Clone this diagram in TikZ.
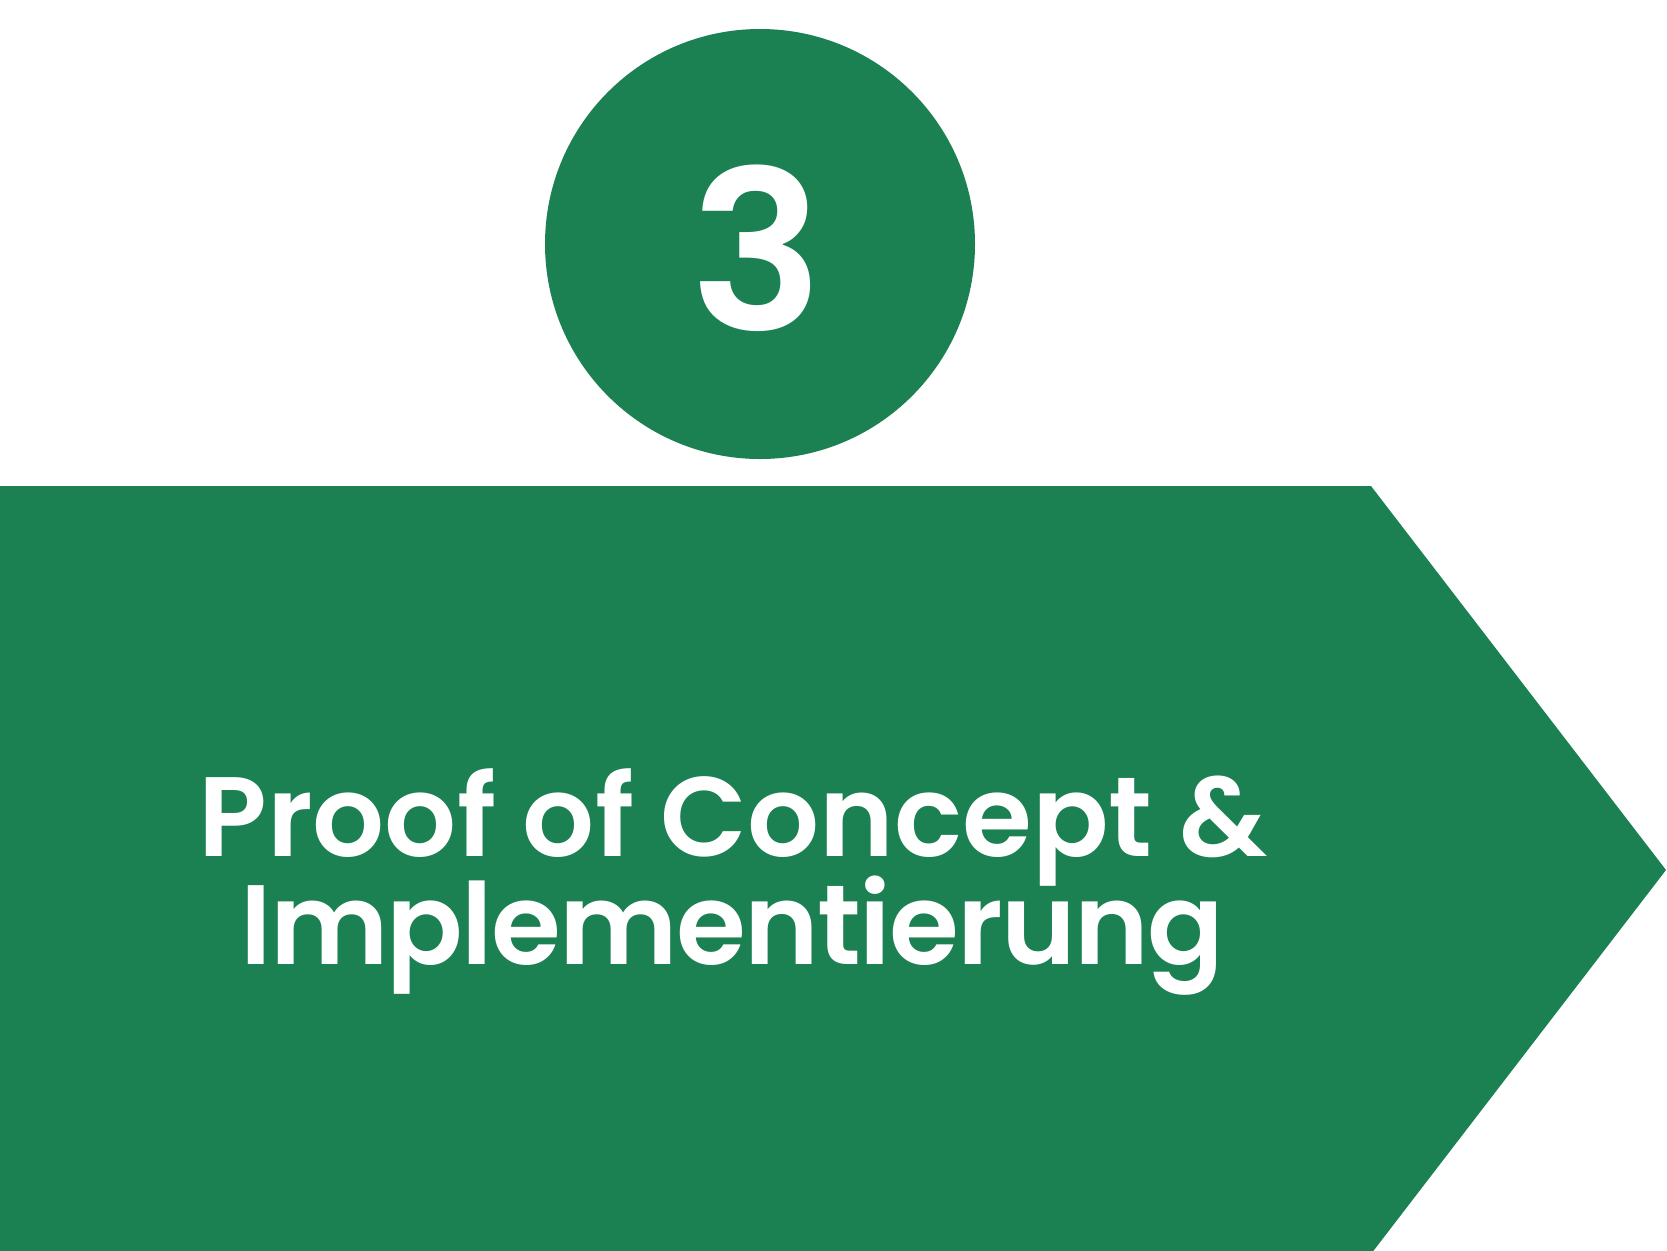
\documentclass[tikz,border=0pt]{standalone}
\usepackage{fontspec}
\setmainfont{Poppins}[BoldFont={Poppins SemiBold}]
\definecolor{brandgreen}{RGB}{27,128,82}
\begin{document}
\begin{tikzpicture}[x=0.5pt,y=-0.5pt,
  shapefill/.style={fill=brandgreen,draw=none},
  labeltext/.style={text=white,font=\fontsize{56.5}{56}\selectfont\bfseries,align=center,inner sep=0pt}]
\useasboundingbox (0,0) rectangle (1667,1250);
\fill[white] (0,0) rectangle (1667,1250);
\node[shapefill,circle,minimum size=430*0.5pt,inner sep=0pt] (badge) at (760,244) {};
\node[text=white,font=\fontsize{111}{111}\selectfont\bfseries,anchor=base] (num) at (757,330) {3};
\path[shapefill] (0,486) -- (1371,486) -- (1666,870) -- (1371,1254) -- (0,1254) -- cycle;
\node[labeltext,anchor=base] (l1) at (733,856) {Proof of Concept \&};
\node[labeltext,anchor=base] (l2) at (732,964) {\addfontfeature{LetterSpace=-1.5}Implementierung};
\end{tikzpicture}
\end{document}
